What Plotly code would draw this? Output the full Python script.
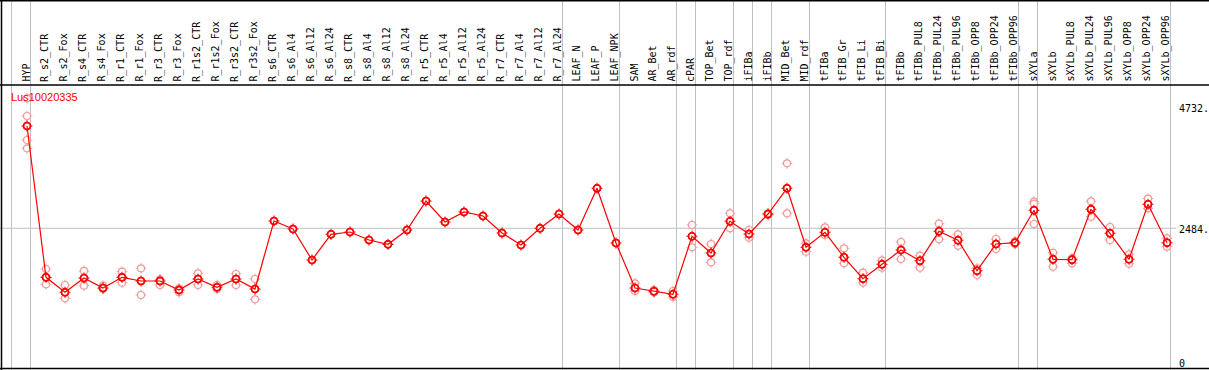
import plotly.graph_objects as go

# ---------------- data ----------------
categories = [
    "HYP", "R_s2_CTR", "R_s2_Fox", "R_s4_CTR", "R_s4_Fox", "R_r1_CTR", "R_r1_Fox",
    "R_r3_CTR", "R_r3_Fox", "R_r1s2_CTR", "R_r1s2_Fox", "R_r3s2_CTR", "R_r3s2_Fox",
    "R_s6_CTR", "R_s6_Al4", "R_s6_Al12", "R_s6_Al24", "R_s8_CTR", "R_s8_Al4",
    "R_s8_Al12", "R_s8_Al24", "R_r5_CTR", "R_r5_Al4", "R_r5_Al12", "R_r5_Al24",
    "R_r7_CTR", "R_r7_Al4", "R_r7_Al12", "R_r7_Al24", "LEAF_N", "LEAF_P", "LEAF_NPK",
    "SAM", "AR_Bet", "AR_rdf", "cPAR", "TOP_Bet", "TOP_rdf", "iFIBa", "iFIBb",
    "MID_Bet", "MID_rdf", "tFIBa", "tFIB_Gr", "tFIB_Li", "tFIB_Bi", "tFIBb",
    "tFIBb_PUL8", "tFIBb_PUL24", "tFIBb_PUL96", "tFIBb_OPP8", "tFIBb_OPP24",
    "tFIBb_OPP96", "sXYLa", "sXYLb", "sXYLb_PUL8", "sXYLb_PUL24", "sXYLb_PUL96",
    "sXYLb_OPP8", "sXYLb_OPP24", "sXYLb_OPP96",
]

means = [
    4384, 1573, 1295, 1560, 1375, 1573, 1505, 1505, 1338, 1542, 1388, 1542, 1356,
    2619, 2471, 1895, 2372, 2415, 2266, 2186, 2452, 2991, 2601, 2787, 2712,
    2396, 2174, 2484, 2749, 2452, 3227, 2211,
    1375, 1313, 1258, 2335, 2025, 2614, 2378, 2749, 3227, 2131,
    2409, 1945, 1547, 1815, 2081, 1882, 2428, 2261, 1696, 2192, 2216,
    2818, 1908, 1900, 2837, 2391, 1908, 2930, 2216,
]

replicates = [
    [4899, 4570, 4124, 3970],
    [1728, 1443], [1430, 1183], [1691, 1417], [1417, 1356], [1678, 1473],
    [1741, 1245], [1536, 1430], [1369, 1295], [1648, 1430], [1430, 1356],
    [1635, 1430], [1542, 1165],
    [], [], [], [], [], [], [], [], [], [], [], [], [], [], [], [], [], [], [],
    [1462, 1319], [1338, 1291], [1319, 1208], [2545, 2131], [2192, 1852],
    [2762, 2484], [2452, 2309], [2762, 2731], [3691, 2762], [2205, 2049],
    [2502, 2359], [2112, 1834], [1659, 1473], [1889, 1752], [2229, 1913],
    [1975, 1752], [2569, 2279], [2372, 2161], [1741, 1616], [2285, 2099],
    [2240, 2190],
    [2978, 2941, 2564], [2030, 1770], [1926, 1834], [2985, 2699], [2508, 2266],
    [2001, 1826], [3034, 2855], [2298, 2142],
]

# index (1-based) of the last category before each vertical separator
group_ends = [0, 1, 29, 32, 35, 36, 38, 39, 40, 42, 46, 53, 54, 61]

y_label_values = [4732, 2484, 0]
y_label_texts = ["4732.", "2484.", "0"]
gridline_value = 2484
gene_id = "Lus10020335"

# ---------------- layout geometry ----------------
W, H = 1209, 370
X0_PX, DX_PX = 27, 19          # pixel of first category, spacing
ZERO_PX, PX_PER_UNIT = 362, 0.05383
HEADER_PX = 85

x_range = [(0 - X0_PX) / DX_PX, (W - X0_PX) / DX_PX]
y_range = [(ZERO_PX - H) / PX_PER_UNIT, ZERO_PX / PX_PER_UNIT]

MEAN_COLOR = "#ff0000"
REP_COLOR = "#f09a9a"
GRID = "#c0c0c0"

xs = list(range(len(categories)))
rep_x = [i for i, r in enumerate(replicates) for _ in r]
rep_y = [v for r in replicates for v in r]

fig = go.Figure()

# replicate markers: small ticks then white-filled circles
fig.add_trace(go.Scatter(x=rep_x, y=rep_y, mode="markers", hoverinfo="skip",
                         marker=dict(symbol="cross-thin-open", size=7.6, color=REP_COLOR,
                                     line=dict(color=REP_COLOR, width=1))))
fig.add_trace(go.Scatter(x=rep_x, y=rep_y, mode="markers", hoverinfo="skip",
                         marker=dict(symbol="circle", size=7, color="white",
                                     line=dict(color=REP_COLOR, width=1.2))))
# mean ticks + white circles
fig.add_trace(go.Scatter(x=xs, y=means, mode="markers", hoverinfo="skip",
                         marker=dict(symbol="cross-thin-open", size=7.8, color=MEAN_COLOR,
                                     line=dict(color=MEAN_COLOR, width=1.1))))
fig.add_trace(go.Scatter(x=xs, y=means, mode="markers", hoverinfo="skip",
                         marker=dict(symbol="circle", size=7, color="white",
                                     line=dict(color=MEAN_COLOR, width=1.5))))
# connecting line
fig.add_trace(go.Scatter(x=xs, y=means, mode="lines", hoverinfo="skip",
                         line=dict(color=MEAN_COLOR, width=1.2)))
# open circles on top
fig.add_trace(go.Scatter(x=xs, y=means, mode="markers", hoverinfo="skip",
                         marker=dict(symbol="circle-open", size=7, color=MEAN_COLOR,
                                     line=dict(color=MEAN_COLOR, width=1.6))))

shapes = []
# vertical group separators (full height)
for k in group_ends:
    xv = (k - 1) + 3.5 / DX_PX
    shapes.append(dict(type="line", xref="x", yref="paper", x0=xv, x1=xv, y0=0, y1=1,
                       line=dict(color=GRID, width=1), layer="below"))
# horizontal grid line
shapes.append(dict(type="line", xref="paper", yref="y", x0=0, x1=1176 / W,
                   y0=gridline_value, y1=gridline_value,
                   line=dict(color=GRID, width=1), layer="below"))
# black frame lines
def hline(py):
    return dict(type="line", xref="paper", yref="paper", x0=0, x1=1,
                y0=1 - py / H, y1=1 - py / H, line=dict(color="black", width=1.5))
shapes += [hline(0.75), hline(HEADER_PX), hline(368.5)]
shapes.append(dict(type="line", xref="paper", yref="paper", x0=1.5 / W, x1=1.5 / W,
                   y0=0, y1=1, line=dict(color="black", width=1.5)))

annotations = []
for i, c in enumerate(categories):
    annotations.append(dict(x=i, y=1 - 84 / H, xref="x", yref="paper", text=c,
                            textangle=-90, showarrow=False, xanchor="center",
                            yanchor="bottom", xshift=-1.5,
                            font=dict(family="DejaVu Sans Mono", size=10, color="black")))
for v, t in zip(y_label_values, y_label_texts):
    annotations.append(dict(x=1177 / W, y=v, xref="paper", yref="y", text=t,
                            showarrow=False, xanchor="left", yanchor="middle",
                            yshift=-1,
                            font=dict(family="DejaVu Sans Mono", size=10, color="black")))
annotations.append(dict(x=9 / W, y=1 - 97 / H, xref="paper", yref="paper", text=gene_id,
                        showarrow=False, xanchor="left", yanchor="middle",
                        font=dict(family="Liberation Sans", size=11, color=MEAN_COLOR)))

fig.update_layout(
    width=W, height=H, margin=dict(l=0, r=0, t=0, b=0),
    paper_bgcolor="white", plot_bgcolor="white", showlegend=False,
    xaxis=dict(range=x_range, visible=False, fixedrange=True),
    yaxis=dict(range=y_range, visible=False, fixedrange=True),
    shapes=shapes, annotations=annotations,
)
fig.write_html("out.html", config={"displayModeBar": False},
               post_script="document.body.style.margin='0';document.body.style.overflow='hidden';")
